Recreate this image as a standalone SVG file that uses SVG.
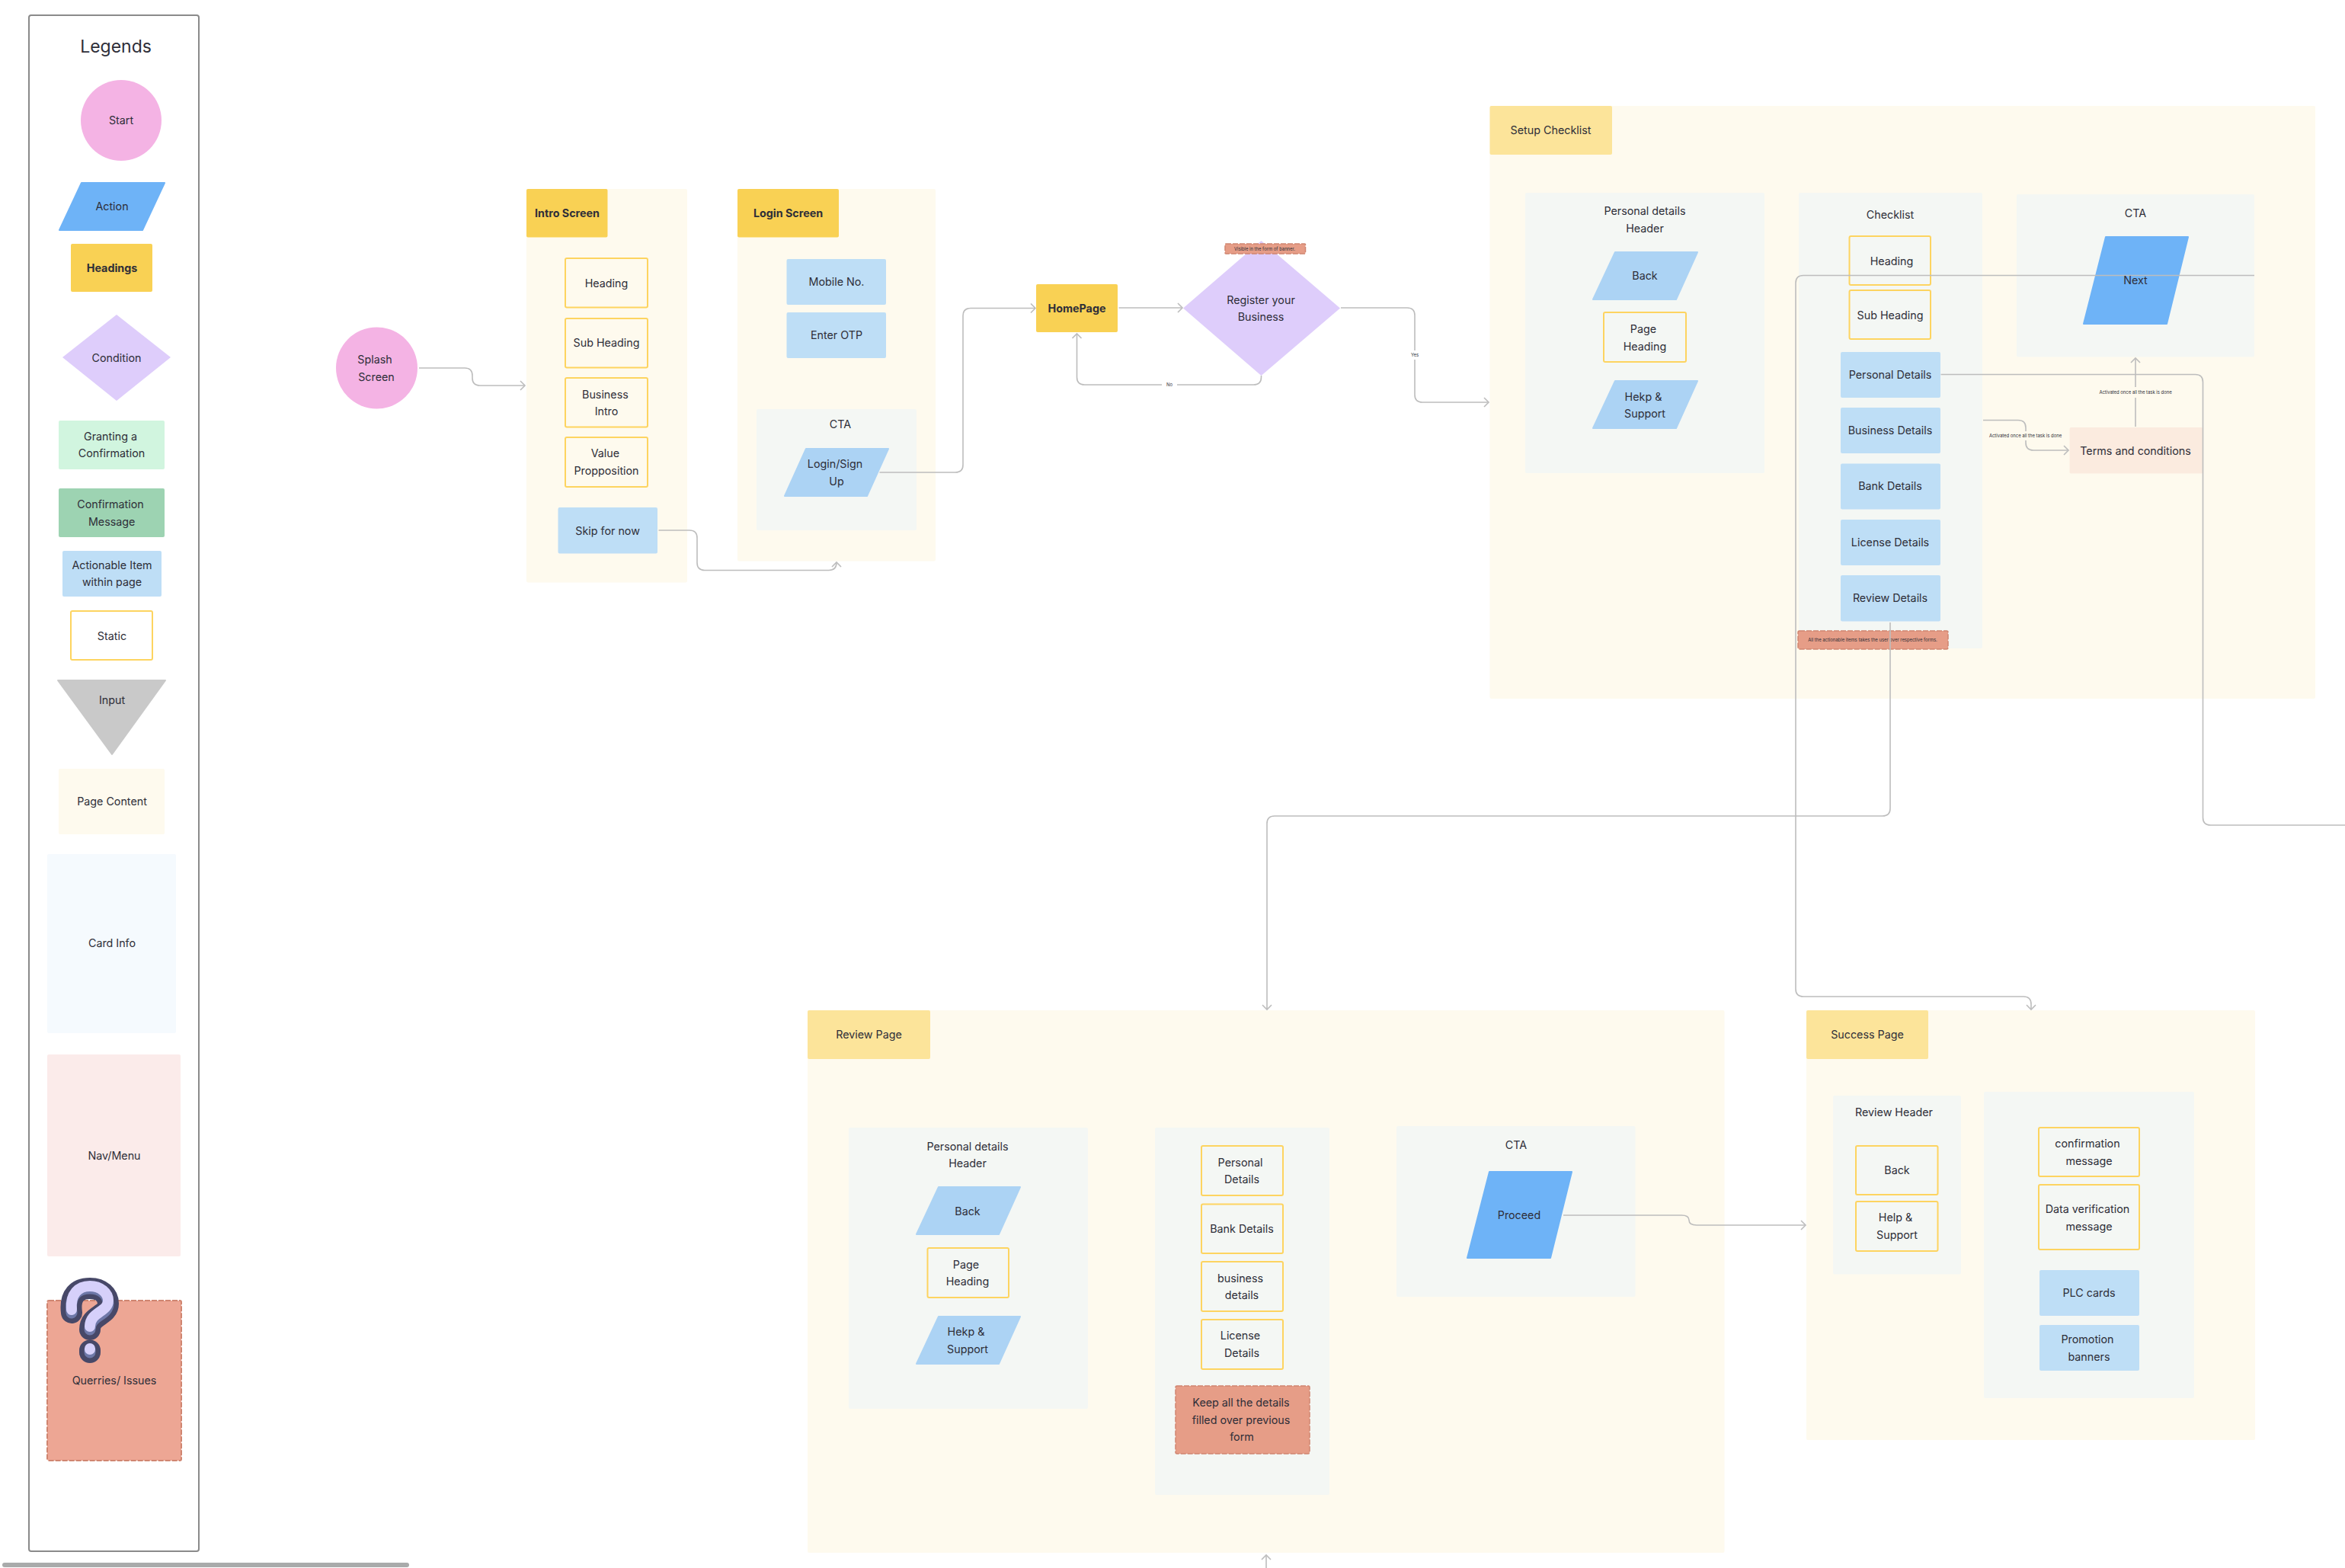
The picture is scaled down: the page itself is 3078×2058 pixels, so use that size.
<svg xmlns="http://www.w3.org/2000/svg" width="3078" height="2058" viewBox="0 0 3078 2058">
<style>
text{font-family:Inter,"Noto Sans","Liberation Sans",sans-serif;font-size:14.300px;text-anchor:middle;dominant-baseline:central;fill:#2e2e38;transform:translateY(-1px)}
.b{font-weight:700}
.s{font-size:5.900px}
.page{fill:#fefaee}
.card{fill:#f4f7f4}
.head{fill:#f9d154}
.phead{fill:#fce49a}
.stat{fill:none;stroke:#fdd460;stroke-width:2}
.act{fill:#bedef6}
.lp{fill:#acd3f4;stroke:#acd3f4;stroke-width:2;stroke-linejoin:round}
.bp{fill:#6eb3f7;stroke:#6eb3f7;stroke-width:2;stroke-linejoin:round}
.red{fill:#e69d87;stroke:#cf8570;stroke-width:1.500;stroke-dasharray:7 2}
.con{fill:none;stroke:#bdbdbd;stroke-width:1.600;marker-end:url(#ah)}
.nm{marker-end:none}
</style>
<defs>
<marker id="ah" markerUnits="userSpaceOnUse" markerWidth="12" markerHeight="14" refX="9" refY="7" orient="auto"><path d="M3 1L9 7L3 13" fill="none" stroke="#bdbdbd" stroke-width="1.600"/></marker>
</defs>

<g id="legend-panel"><rect x="38" y="20" width="223" height="2016" rx="3" fill="#fff" stroke="#8a8a8a" stroke-width="2"/><text x="152" y="62" style="font-size:23px">Legends</text></g>
<g id="lg-start"><circle cx="159" cy="158" r="53" fill="#f4b3e4"/><text x="159" y="158">Start</text></g>
<g id="lg-action"><polygon points="107,240 216,240 187,302 78,302" class="bp"/><text x="147" y="271">Action</text></g>
<g id="lg-headings"><rect x="93" y="320" width="107" height="63" rx="2" class="head"/><text x="147" y="352" class="b">Headings</text></g>
<g id="lg-condition"><polygon points="153,413 224,469 153,526 82,469" fill="#decdfb"/><text x="153" y="470">Condition</text></g>
<g id="lg-granting"><rect x="77" y="552" width="139" height="64" rx="2" fill="#d1f5df"/><text x="145" y="573">Granting a</text><text x="146.500" y="595.500">Confirmation</text></g>
<g id="lg-confirm"><rect x="77" y="641" width="139" height="64" rx="2" fill="#9dd3b2"/><text x="145" y="662.500">Confirmation</text><text x="146.700" y="685">Message</text></g>
<g id="lg-actionable"><rect x="82" y="723" width="130" height="60" rx="2" class="act"/><text x="147" y="742">Actionable Item</text><text x="147" y="764.500">within page</text></g>
<g id="lg-static"><rect x="93" y="802" width="107" height="64" rx="2" class="stat"/><text x="147" y="835">Static</text></g>
<g id="lg-input"><polygon points="76,893 217,893 147,990" fill="#c9c9c9" stroke="#c9c9c9" stroke-width="2" stroke-linejoin="round"/><text x="147" y="919">Input</text></g>
<g id="lg-page"><rect x="77" y="1009" width="139" height="86" rx="2" class="page"/><text x="147" y="1052">Page Content</text></g>
<g id="lg-card"><rect x="62" y="1121" width="169" height="235" rx="2" fill="#f5fafe"/><text x="147" y="1238">Card Info</text></g>
<g id="lg-nav"><rect x="62" y="1384" width="175" height="265" rx="2" fill="#fbebea"/><text x="150" y="1517">Nav/Menu</text></g>
<g id="lg-issues"><rect x="62" y="1707" width="176" height="210" rx="2" fill="#eda694" stroke="#cf8570" stroke-width="2" stroke-dasharray="7 2"/>
<path d="M94 1723C91 1700 102 1691 118 1691C133 1691 142 1700 142 1711C142 1727 118 1726 118 1745M118 1772.500L118 1775" fill="none" stroke="#474868" stroke-width="28" stroke-linecap="round"/>
<path d="M94 1723C91 1700 102 1691 118 1691C133 1691 142 1700 142 1711C142 1727 118 1726 118 1745M118 1772.500L118 1775" fill="none" stroke="#6e78a8" stroke-width="15" stroke-linecap="round"/>
<path d="M94 1719C92 1698 103 1688 118 1688C132 1688 142 1697 142 1707C142 1722 118 1722 118 1741M118 1770L118 1771" fill="none" stroke="#d6d0fa" stroke-width="14" stroke-linecap="round"/>
<text x="150" y="1812">Querries/ Issues</text></g>
<g id="scrollbar"><rect x="3" y="2051" width="534" height="6" rx="3" fill="#a9abab"/></g>

<g id="splash"><circle cx="494.500" cy="483" r="53.500" fill="#f4b3e4"/><text x="492" y="472">Splash</text><text x="494" y="495">Screen</text></g>

<g id="intro-screen"><rect x="691" y="248" width="211" height="516.500" rx="2" class="page"/><rect x="691" y="248" width="106.500" height="63.500" rx="2" class="head"/><text x="744.500" y="280" class="b">Intro Screen</text></g>
<g id="intro-heading"><rect x="742" y="339" width="108" height="64.500" rx="2" class="stat"/><text x="796" y="372">Heading</text></g>
<g id="intro-sub"><rect x="742" y="418" width="108" height="64.500" rx="2" class="stat"/><text x="796" y="450.500">Sub Heading</text></g>
<g id="intro-business"><rect x="742" y="496" width="108" height="64.500" rx="2" class="stat"/><text x="794.400" y="518">Business</text><text x="796" y="540.600">Intro</text></g>
<g id="intro-value"><rect x="742" y="574" width="108" height="65" rx="2" class="stat"/><text x="794.400" y="595.700">Value</text><text x="796" y="618">Propposition</text></g>
<g id="intro-skip"><rect x="732.500" y="666" width="130.500" height="60.500" rx="2" class="act"/><text x="797.600" y="697">Skip for now</text></g>

<g id="login-screen"><rect x="968" y="248" width="260" height="488.500" rx="2" class="page"/><rect x="968" y="248" width="133" height="63.500" rx="2" class="head"/><text x="1034.500" y="280" class="b">Login Screen</text></g>
<g id="login-mobile"><rect x="1032.500" y="340" width="130.500" height="60" rx="2" class="act"/><text x="1098" y="370">Mobile No.</text></g>
<g id="login-otp"><rect x="1032.500" y="410" width="130.500" height="60" rx="2" class="act"/><text x="1098" y="440">Enter OTP</text></g>
<g id="login-cta"><rect x="993" y="537" width="210" height="159" rx="2" class="card"/><text x="1103" y="557.500">CTA</text></g>
<g id="login-btn"><polygon points="1058,589 1166,589 1138,651 1030,651" class="lp"/><text x="1096" y="609">Login/Sign</text><text x="1098" y="632">Up</text></g>

<g id="homepage"><rect x="1360" y="373" width="107" height="63" rx="2" class="head"/><text x="1413.500" y="405" class="b">HomePage</text></g>
<g id="register"><polygon points="1655.500,316 1759,404.500 1655.500,493 1553,404.500" fill="#decdfb"/><text x="1655" y="394">Register your</text><text x="1655" y="416">Business</text></g>
<g id="banner-note"><rect x="1608" y="320" width="105.500" height="13" rx="1" class="red"/><text x="1660" y="327" class="s">Visible in the form of banner.</text></g>

<g id="setup"><rect x="1955.500" y="139" width="1083.500" height="778" rx="2" class="page"/><rect x="1955.500" y="139" width="160.500" height="64" rx="2" class="phead"/><text x="2035.500" y="171">Setup Checklist</text></g>
<g id="setup-personal"><rect x="2002" y="253" width="314" height="368" rx="2" class="card"/><text x="2159" y="277">Personal details</text><text x="2159" y="300">Header</text></g>
<g id="setup-back"><polygon points="2120,331 2228,331 2200,393 2091,393" class="lp"/><text x="2159" y="362">Back</text></g>
<g id="setup-pageh"><rect x="2105" y="410" width="108" height="65" rx="2" class="stat"/><text x="2157" y="432">Page</text><text x="2159" y="455">Heading</text></g>
<g id="setup-help"><polygon points="2120,500 2228,500 2200,562 2091,562" class="lp"/><text x="2157" y="521">Hekp &amp;</text><text x="2159" y="543">Support</text></g>
<g id="checklist"><rect x="2361" y="253" width="241" height="598" rx="2" class="card"/><text x="2481" y="282.500">Checklist</text></g>
<g id="cl-heading"><rect x="2427.500" y="310" width="106.500" height="64" rx="2" class="stat"/><text x="2483" y="343">Heading</text></g>
<g id="cl-sub"><rect x="2427.500" y="381" width="106.500" height="64" rx="2" class="stat"/><text x="2481" y="414">Sub Heading</text></g>
<g id="cl-personal"><rect x="2416" y="462" width="131" height="60" rx="2" class="act"/><text x="2481" y="492">Personal Details</text></g>
<g id="cl-business"><rect x="2416" y="535" width="131" height="60" rx="2" class="act"/><text x="2481" y="565.500">Business Details</text></g>
<g id="cl-bank"><rect x="2416" y="608.500" width="131" height="60" rx="2" class="act"/><text x="2481" y="638.500">Bank Details</text></g>
<g id="cl-license"><rect x="2416" y="682" width="131" height="60" rx="2" class="act"/><text x="2481" y="712">License Details</text></g>
<g id="cl-review"><rect x="2416" y="755" width="131" height="60.500" rx="2" class="act"/><text x="2481" y="785.500">Review Details</text></g>
<g id="cl-note"><rect x="2360" y="828" width="197" height="24" rx="2" class="red"/><text x="2458" y="840" class="s">All the actionable items takes the user over respective forms.</text></g>
<g id="setup-cta"><rect x="2647" y="255" width="312" height="213.500" rx="2" class="card"/><text x="2803" y="280">CTA</text></g>
<g id="setup-next"><polygon points="2764,311 2872,311 2844,425 2735,425" class="bp"/></g>
<g id="terms"><rect x="2716.500" y="561" width="175" height="60.500" rx="2" fill="#fbebdf"/><text x="2803" y="592">Terms and conditions</text></g>

<g id="review"><rect x="1060" y="1326" width="1203.500" height="712" rx="2" class="page"/><rect x="1060" y="1326" width="161" height="64" rx="2" class="phead"/><text x="1140.500" y="1358">Review Page</text></g>
<g id="rv-personal"><rect x="1114" y="1480" width="314" height="369" rx="2" class="card"/><text x="1270" y="1505">Personal details</text><text x="1270" y="1527">Header</text></g>
<g id="rv-back"><polygon points="1232,1558 1339,1558 1311,1620 1203,1620" class="lp"/><text x="1270" y="1590">Back</text></g>
<g id="rv-pageh"><rect x="1217.500" y="1638" width="106.500" height="65" rx="2" class="stat"/><text x="1268" y="1660">Page</text><text x="1270" y="1682">Heading</text></g>
<g id="rv-help"><polygon points="1232,1728 1339,1728 1311,1790 1203,1790" class="lp"/><text x="1268" y="1748">Hekp &amp;</text><text x="1270" y="1771">Support</text></g>
<g id="rv-list"><rect x="1516" y="1480" width="229" height="482" rx="2" class="card"/></g>
<g id="rv-l1"><rect x="1577" y="1504" width="107" height="65" rx="2" class="stat"/><text x="1628" y="1526">Personal</text><text x="1630" y="1548">Details</text></g>
<g id="rv-l2"><rect x="1577" y="1580.500" width="107" height="64.500" rx="2" class="stat"/><text x="1630" y="1613">Bank Details</text></g>
<g id="rv-l3"><rect x="1577" y="1656" width="107" height="65" rx="2" class="stat"/><text x="1628" y="1678">business</text><text x="1630" y="1700">details</text></g>
<g id="rv-l4"><rect x="1577" y="1732" width="107" height="65" rx="2" class="stat"/><text x="1628" y="1753.500">License</text><text x="1630" y="1776">Details</text></g>
<g id="rv-note"><rect x="1543" y="1819" width="176" height="89" rx="2" class="red"/><text x="1629" y="1841">Keep all the details</text><text x="1629" y="1864">filled over previous</text><text x="1630" y="1886">form</text></g>
<g id="rv-cta"><rect x="1833" y="1478" width="313.500" height="224" rx="2" class="card"/><text x="1990" y="1503">CTA</text></g>
<g id="rv-proceed"><polygon points="1955,1538 2063,1538 2035,1651 1926,1651" class="bp"/><text x="1994" y="1595">Proceed</text></g>

<g id="success"><rect x="2371" y="1326" width="589" height="564" rx="2" class="page"/><rect x="2371" y="1326" width="160" height="64" rx="2" class="phead"/><text x="2451" y="1358">Success Page</text></g>
<g id="su-header"><rect x="2406" y="1438" width="168" height="234.500" rx="2" class="card"/><text x="2486" y="1460">Review Header</text></g>
<g id="su-back"><rect x="2436" y="1504" width="107.500" height="64" rx="2" class="stat"/><text x="2490" y="1536">Back</text></g>
<g id="su-help"><rect x="2436" y="1577" width="107.500" height="65" rx="2" class="stat"/><text x="2488" y="1598.500">Help &amp;</text><text x="2490" y="1621.500">Support</text></g>
<g id="su-body"><rect x="2604" y="1433" width="276" height="402" rx="2" class="card"/></g>
<g id="su-confirm"><rect x="2676" y="1480" width="132" height="64" rx="2" class="stat"/><text x="2740" y="1501.500">confirmation</text><text x="2742" y="1524">message</text></g>
<g id="su-data"><rect x="2676" y="1555" width="132" height="85" rx="2" class="stat"/><text x="2740" y="1587.500">Data verification</text><text x="2742" y="1610">message</text></g>
<g id="su-plc"><rect x="2677" y="1667" width="131" height="60" rx="2" class="act"/><text x="2742" y="1697">PLC cards</text></g>
<g id="su-promo"><rect x="2677" y="1739" width="131" height="60" rx="2" class="act"/><text x="2740" y="1758">Promotion</text><text x="2742" y="1781">banners</text></g>

<g id="connectors">
<path class="con" d="M550 483H610Q620 483 620 493V496Q620 506 630 506H689"/>
<path class="con" d="M864.500 696H905Q915 696 915 706V738.500Q915 748.500 925 748.500H1088Q1098 748.500 1098 738"/>
<path class="con" d="M1154.500 620H1254Q1264 620 1264 610V414.500Q1264 404.500 1274 404.500H1359"/>
<path class="con" d="M1468.500 404H1552"/>
<path class="con" d="M1760 404H1847Q1857 404 1857 414V518Q1857 528 1867 528H1954"/>
<path class="con" d="M1655.500 493V495Q1655.500 505 1645.500 505H1423.500Q1413.500 505 1413.500 495V438"/>
<path class="con" d="M2959 361.500H2367Q2357 361.500 2357 371.500V1298Q2357 1308 2367 1308H2656Q2666 1308 2666 1318V1325"/>
<path class="con nm" d="M2547.500 491.500H2881.500Q2891.500 491.500 2891.500 501.500V1073Q2891.500 1083 2901.500 1083H3078"/>
<path class="con" d="M2481 817V1061Q2481 1071 2471 1071H1673Q1663 1071 1663 1081V1325"/>
<path class="con" d="M2603 551.500H2649Q2659 551.500 2659 561.500V581Q2659 591 2669 591H2715"/>
<path class="con" d="M2803 560V470"/>
<path class="con" d="M2052 1595H2207Q2217 1595 2217 1601.500Q2217 1608 2227 1608H2370"/>
<path class="con" d="M1662 2058V2041"/>
<rect x="1525" y="501" width="20" height="8" fill="#fff"/><text x="1535" y="505" class="s">No</text>
<rect x="1848" y="460" width="18" height="12" fill="#fff"/><text x="1857" y="466" class="s">Yes</text>
<rect x="2611" y="566" width="96" height="12" class="page"/><text x="2658.500" y="572" class="s">Activated once all the task is done</text>
<rect x="2755" y="508" width="96" height="14" class="page"/><text x="2803" y="515.500" class="s">Activated once all the task is done</text>
<text x="2803" y="368.500">Next</text>
</g>
</svg>
